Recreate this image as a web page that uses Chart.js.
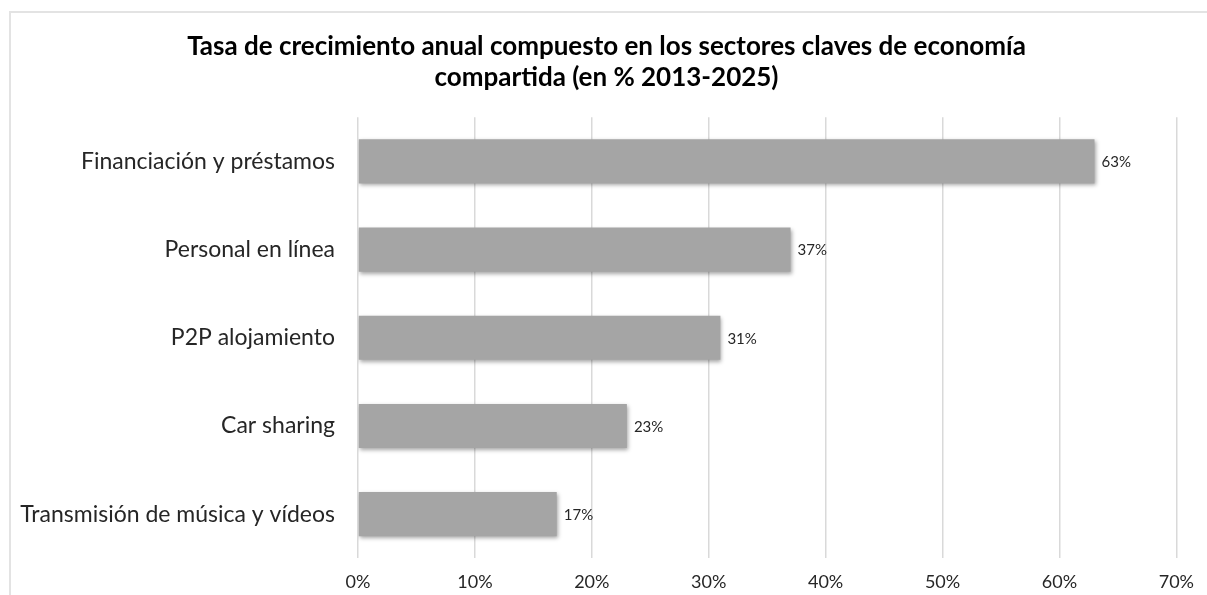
<!DOCTYPE html>
<html lang="es">
  <head>
    <meta charset="UTF-8" />
    <title>Economía compartida</title>
    <script src="https://cdn.jsdelivr.net/npm/chart.js"></script>
    <style>
      body { margin: 0; background: #fff; }
      #frame {
        position: absolute; left: 9px; top: 11px; width: 1400px; height: 800px;
        border-left: 2px solid #e3e3e3; border-top: 2px solid #e3e3e3;
      }
      #chart { position: absolute; left: 0; top: 0; }
    </style>
  </head>
  <body>
    <div id="frame"></div>
    <canvas id="chart" width="1207" height="595"></canvas>

    <script>
      // datos
      const sectores = [
        "Financiación y préstamos",
        "Personal en línea",
        "P2P alojamiento",
        "Car sharing",
        "Transmisión de música y vídeos",
      ];
      const tasas = [63, 37, 31, 23, 17];
      const titulo = [
        "Tasa de crecimiento anual compuesto en los sectores claves de economía",
        "compartida (en % 2013-2025)",
      ];

      const FONT = "Lato, 'Open Sans', sans-serif";

      // centrar el título como en el original (un poco a la derecha)
      const tituloCentro = {
        id: "tituloCentro",
        afterLayout(chart) {
          if (chart.titleBlock) chart.titleBlock.left = 30;
        },
      };

      // sombra suave bajo las barras
      const sombra = {
        id: "sombra",
        beforeDatasetsDraw(chart) {
          const c = chart.ctx;
          c.save();
          c.shadowColor = "rgba(0,0,0,0.35)";
          c.shadowBlur = 4;
          c.shadowOffsetX = 1;
          c.shadowOffsetY = 2;
        },
        afterDatasetsDraw(chart) {
          chart.ctx.restore();
        },
      };

      // etiquetas de valor al final de cada barra
      const etiquetas = {
        id: "etiquetas",
        afterDatasetsDraw(chart) {
          const c = chart.ctx;
          const meta = chart.getDatasetMeta(0);
          c.save();
          c.font = "15px " + FONT;
          c.fillStyle = "#262626";
          c.textAlign = "left";
          c.textBaseline = "middle";
          meta.data.forEach((bar, i) => {
            c.fillText(tasas[i] + "%", bar.x + 7, bar.y + 1);
          });
          c.restore();
        },
      };

      new Chart(document.getElementById("chart"), {
        type: "bar",
        data: {
          labels: sectores,
          datasets: [
            {
              data: tasas,
              backgroundColor: "#a5a5a5",
              borderWidth: 0,
              categoryPercentage: 1,
              barPercentage: 0.5,
            },
          ],
        },
        options: {
          indexAxis: "y",
          responsive: false,
          animation: false,
          layout: { padding: { left: 0, right: 24, top: 0, bottom: 0 } },
          plugins: {
            legend: { display: false },
            tooltip: { enabled: false },
            title: {
              display: true,
              text: titulo,
              color: "#000",
              font: { family: FONT, size: 26, weight: "bold", lineHeight: 1.16 },
              padding: { top: 32, bottom: 25 },
            },
          },
          scales: {
            x: {
              min: 0,
              max: 70,
              ticks: {
                stepSize: 10,
                padding: 13,
                color: "#262626",
                font: { family: FONT, size: 18 },
                callback: (v) => v + "%",
              },
              grid: { color: "#d9d9d9", lineWidth: 1.5, drawTicks: false },
              border: { display: false },
              afterFit(scale) { scale.height = 35; },
            },
            y: {
              ticks: {
                padding: 23,
                color: "#262626",
                font: { family: FONT, size: 23 },
              },
              grid: { display: false, drawTicks: false },
              border: { display: false },
              afterFit(scale) { scale.width = 358; },
            },
          },
        },
        plugins: [tituloCentro, sombra, etiquetas],
      });
    </script>
  </body>
</html>
